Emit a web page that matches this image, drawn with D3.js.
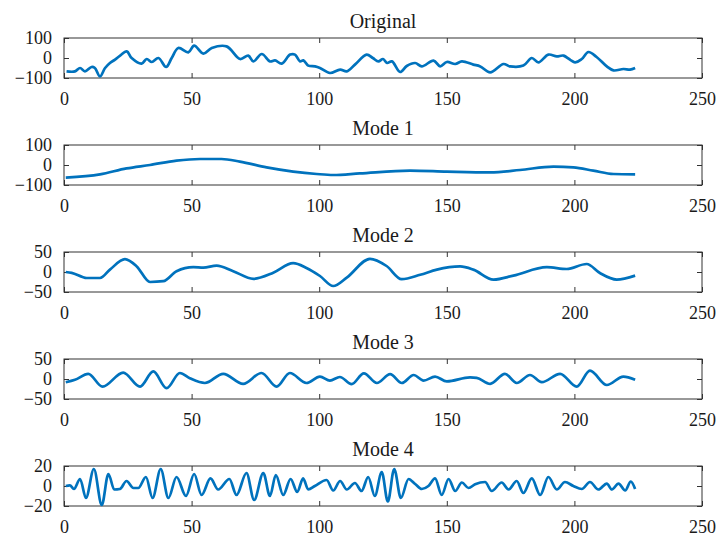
<!DOCTYPE html>
<html>
<head>
<meta charset="utf-8">
<script src="https://cdn.jsdelivr.net/npm/d3@7"></script>
<style>
  body { margin: 0; background: #fff; }
  text { font-family: "Liberation Serif", "Times New Roman", serif; fill: #1a1a1a; }
</style>
</head>
<body>
<svg id="chart" width="719" height="536"></svg>
<script>
// values (sample position, value)
const titles = ["Original", "Mode 1", "Mode 2", "Mode 3", "Mode 4"]
const xTicks = [0, 50, 100, 150, 200, 250]

const origX = [1, 4.3, 6.3, 8.2, 10.8, 12.1, 14.1, 16.1, 18, 20, 22, 24.6, 26.5, 30.4, 32.4, 34.4, 37, 40, 42.2, 44.8, 48.7, 51, 54.6, 57.9, 63.7, 69, 72.2, 74.2, 77.5, 80.7, 82.7, 85.3, 88.6, 90.5, 92.5, 93.8, 95.7, 98.4, 100.3, 104.2, 108.2, 110.8, 114,
  118.6, 121, 123.2, 125, 126.6, 128.5, 131.7, 134.3, 137.6, 140.2, 144.8, 147.4, 150, 153.3, 155.9, 160.4, 163.1, 167, 172.2, 174.8, 180, 183.3, 185.9, 189.8, 193.1, 195.7, 200.3, 202.9, 205.5, 208.7, 212.7, 215.3, 219.2, 221.8, 223.8]
const origY = [-67, -67, -50, -67, -45, -50, -92, -50, -25, -8, 12, 33, 0, -28, -5, -20, 0, -45, 0, 50, 28, 62, 22, 50, 58, -5, 12, -17, 20, -17, -12, -28, 17, 17, -17, -12, -38, -42, -50, -75, -58, -67, -33,
  17, 0, -17, -5, -25, -17, -70, -40, -25, -42, -13, -42, -20, -30, -17, -33, -42, -72, -30, -42, -38, 0, -22, 17, 8, 12, -22, -5, 30, 5, -42, -62, -55, -58, -50]

const mode1X = [0.7, 14.1, 24.5, 33.7, 44.1, 53.3, 61.7, 68.9, 79.4, 89.8, 99, 105.5, 115.9, 135.6, 150, 167, 178.7, 191.8, 199.6, 207.4, 215.3, 223.8]
const mode1Y = [-63, -47, -17, 0, 22, 30, 30, 17, -12, -33, -45, -50, -42, -28, -33, -37, -25, -8, -12, -28, -45, -47]

const mode2X = [0.7, 3, 8.9, 14.1, 18, 23.9, 28.5, 33.7, 38.9, 44.1, 50.7, 54.6, 59.8, 66.3, 74.2, 82, 89.8, 95, 100.3, 105.5, 110.8, 119.9, 126.4, 132.3, 139.6, 146.1, 155.2, 160.4, 168.3, 176.1, 189.2, 197, 204.8, 210, 216.6, 223.8]
const mode2Y = [0, -2, -15, -15, 6, 32, 14, -25, -23, 2, 12, 11, 16, 2, -17, -2, 22, 10, -10, -35, -14, 33, 15, -18, -7, 6, 14, 6, -19, -9, 12, 7.5, 20, -2.5, -19, -9]

const mode3X = [0.7, 4.3, 9.5, 15.1, 23.2, 29.8, 35, 40.2, 45.4, 49.3, 55.2, 62.4, 70.2, 77.4, 83.3, 88.5, 95, 100.3, 104.2, 108.1, 112.7, 117.5, 122.6, 127.8, 132.4, 137, 140.9, 145.4, 150, 159.1, 161.7, 167, 172.8, 177.4, 182.6, 187.2, 194.4, 200.9, 206.1, 212.7, 219.2, 223.8]
const mode3Y = [-8, -2, 13, -19, 16, -19, 19, -23, 15, 2, -10, 13, -12, 15, -19, 15, -10, 6, -4, 5, -13, 14, -10, 12, -10, 10, -4, 6, -6, 4, 3, -12, 13, -10, 10, -8, 13, -19, 21, -15, 6, -2]

const mode4X = [0.7, 2.3, 3.9, 6.3, 8.6, 11.7, 14.8, 17.4, 19.7, 21.9, 24.5, 27.2, 29.1, 32.1, 34.7, 37.9, 40.9, 44.1, 47.8, 51, 53.9, 57.4, 60.4, 64.8, 67.6, 71.5, 74.5, 78.1, 80.7, 83, 85.9, 88.8, 91.4, 93.7, 95.7, 98.3, 102.9, 105.5, 108.2, 110.8, 114,
  116.6, 119.2, 121.8, 124.5, 126.9, 129.4, 132, 135, 137.6, 140.2, 142.8, 145.4, 148, 150.7, 153.3, 155.9, 158.5, 161.1, 165, 167.6, 171.5, 174.2, 177.4, 180, 183.3, 186.6, 189.8, 193.1, 196.3, 199.6, 202.9, 206.1, 209.4, 212.7, 214.7, 217.3, 219.9, 222.1, 223.8]
const mode4Y = [0, 0.7, -3, 7, -12, 17, -19, 12, -3.5, -3, 5, -2, -2, 9, -12, 17, -12, 9, -10, 12, -9, 7.6, -3.5, 7, -9, 13, -14, 13, -10, 11, -9, 7, -6, 7.6, -3.5, 0, 6, -4.5, 5, -3.5, 3,
  -5, 9, -10, 14, -15.5, 17, -12, 7, 2, -3, 0, 7.6, -9, 7, -5, 3.5, -2, 1.7, 4, -5, 3.5, -3.5, 5, -7, 7.6, -9, 9, -3.5, 4, 0, -3, 4, -3.5, 2.4, -3.5, 2.4, -4.5, 4.5, -3]

const yLimits = [[-100, 100], [-100, 100], [-50, 50], [-50, 50], [-20, 20]]
const yTicks = [[-100, 0, 100], [-100, 0, 100], [-50, 0, 50], [-50, 0, 50], [-20, 0, 20]]
const seriesX = [origX, mode1X, mode2X, mode3X, mode4X]
const seriesY = [origY, mode1Y, mode2Y, mode3Y, mode4Y]

const left = 64, right = 702
const tops = [38, 145, 252, 359, 466]
const h = 40
const axisColor = "#333333"
const serif = '"Liberation Serif", "Times New Roman", serif'

const svg = d3.select("#chart")
const x = d3.scaleLinear().domain([0, 250]).range([left, right])

titles.forEach((title, i) => {
  const top = tops[i]
  const y = d3.scaleLinear().domain(yLimits[i]).range([top + h, top])
  const g = svg.append("g")

  g.append("rect")
    .attr("x", left).attr("y", top)
    .attr("width", right - left).attr("height", h)
    .attr("fill", "none").attr("stroke", axisColor).attr("stroke-width", 1)

  // bottom axis with labels, ticks pointing inward
  const bottom = g.append("g")
    .attr("transform", `translate(0,${top + h})`)
    .call(d3.axisBottom(x).tickValues(xTicks).tickSize(-5).tickPadding(14).tickFormat(d3.format("d")))
  // top axis, ticks only
  const topAx = g.append("g")
    .attr("transform", `translate(0,${top})`)
    .call(d3.axisTop(x).tickValues(xTicks).tickSize(-5).tickFormat(""))
  const leftAx = g.append("g")
    .attr("transform", `translate(${left},0)`)
    .call(d3.axisLeft(y).tickValues(yTicks[i]).tickSize(-5).tickPadding(12).tickFormat(d3.format("d")))
  const rightAx = g.append("g")
    .attr("transform", `translate(${right},0)`)
    .call(d3.axisRight(y).tickValues(yTicks[i]).tickSize(-5).tickFormat(""))

  ;[bottom, topAx, leftAx, rightAx].forEach(a => {
    a.attr("font-family", serif).attr("font-size", 18)
    a.select(".domain").remove()
    a.selectAll("line").attr("stroke", axisColor)
    a.selectAll("text").attr("fill", "#1a1a1a")
  })

  const pts = seriesX[i].map((d, k) => [d, seriesY[i][k]])
  const line = d3.line()
    .x(d => x(d[0]))
    .y(d => y(d[1]))
    .curve(i === 0 ? d3.curveCatmullRom.alpha(0.5) : d3.curveMonotoneX)

  g.append("path")
    .datum(pts)
    .attr("d", line)
    .attr("fill", "none")
    .attr("stroke", "#0072BD")
    .attr("stroke-width", 2.7)
    .attr("stroke-linejoin", "round")

  g.append("text")
    .attr("x", (left + right) / 2)
    .attr("y", top - 10)
    .attr("text-anchor", "middle")
    .attr("font-family", serif)
    .attr("font-size", 20)
    .text(title)
})
</script>
</body>
</html>
